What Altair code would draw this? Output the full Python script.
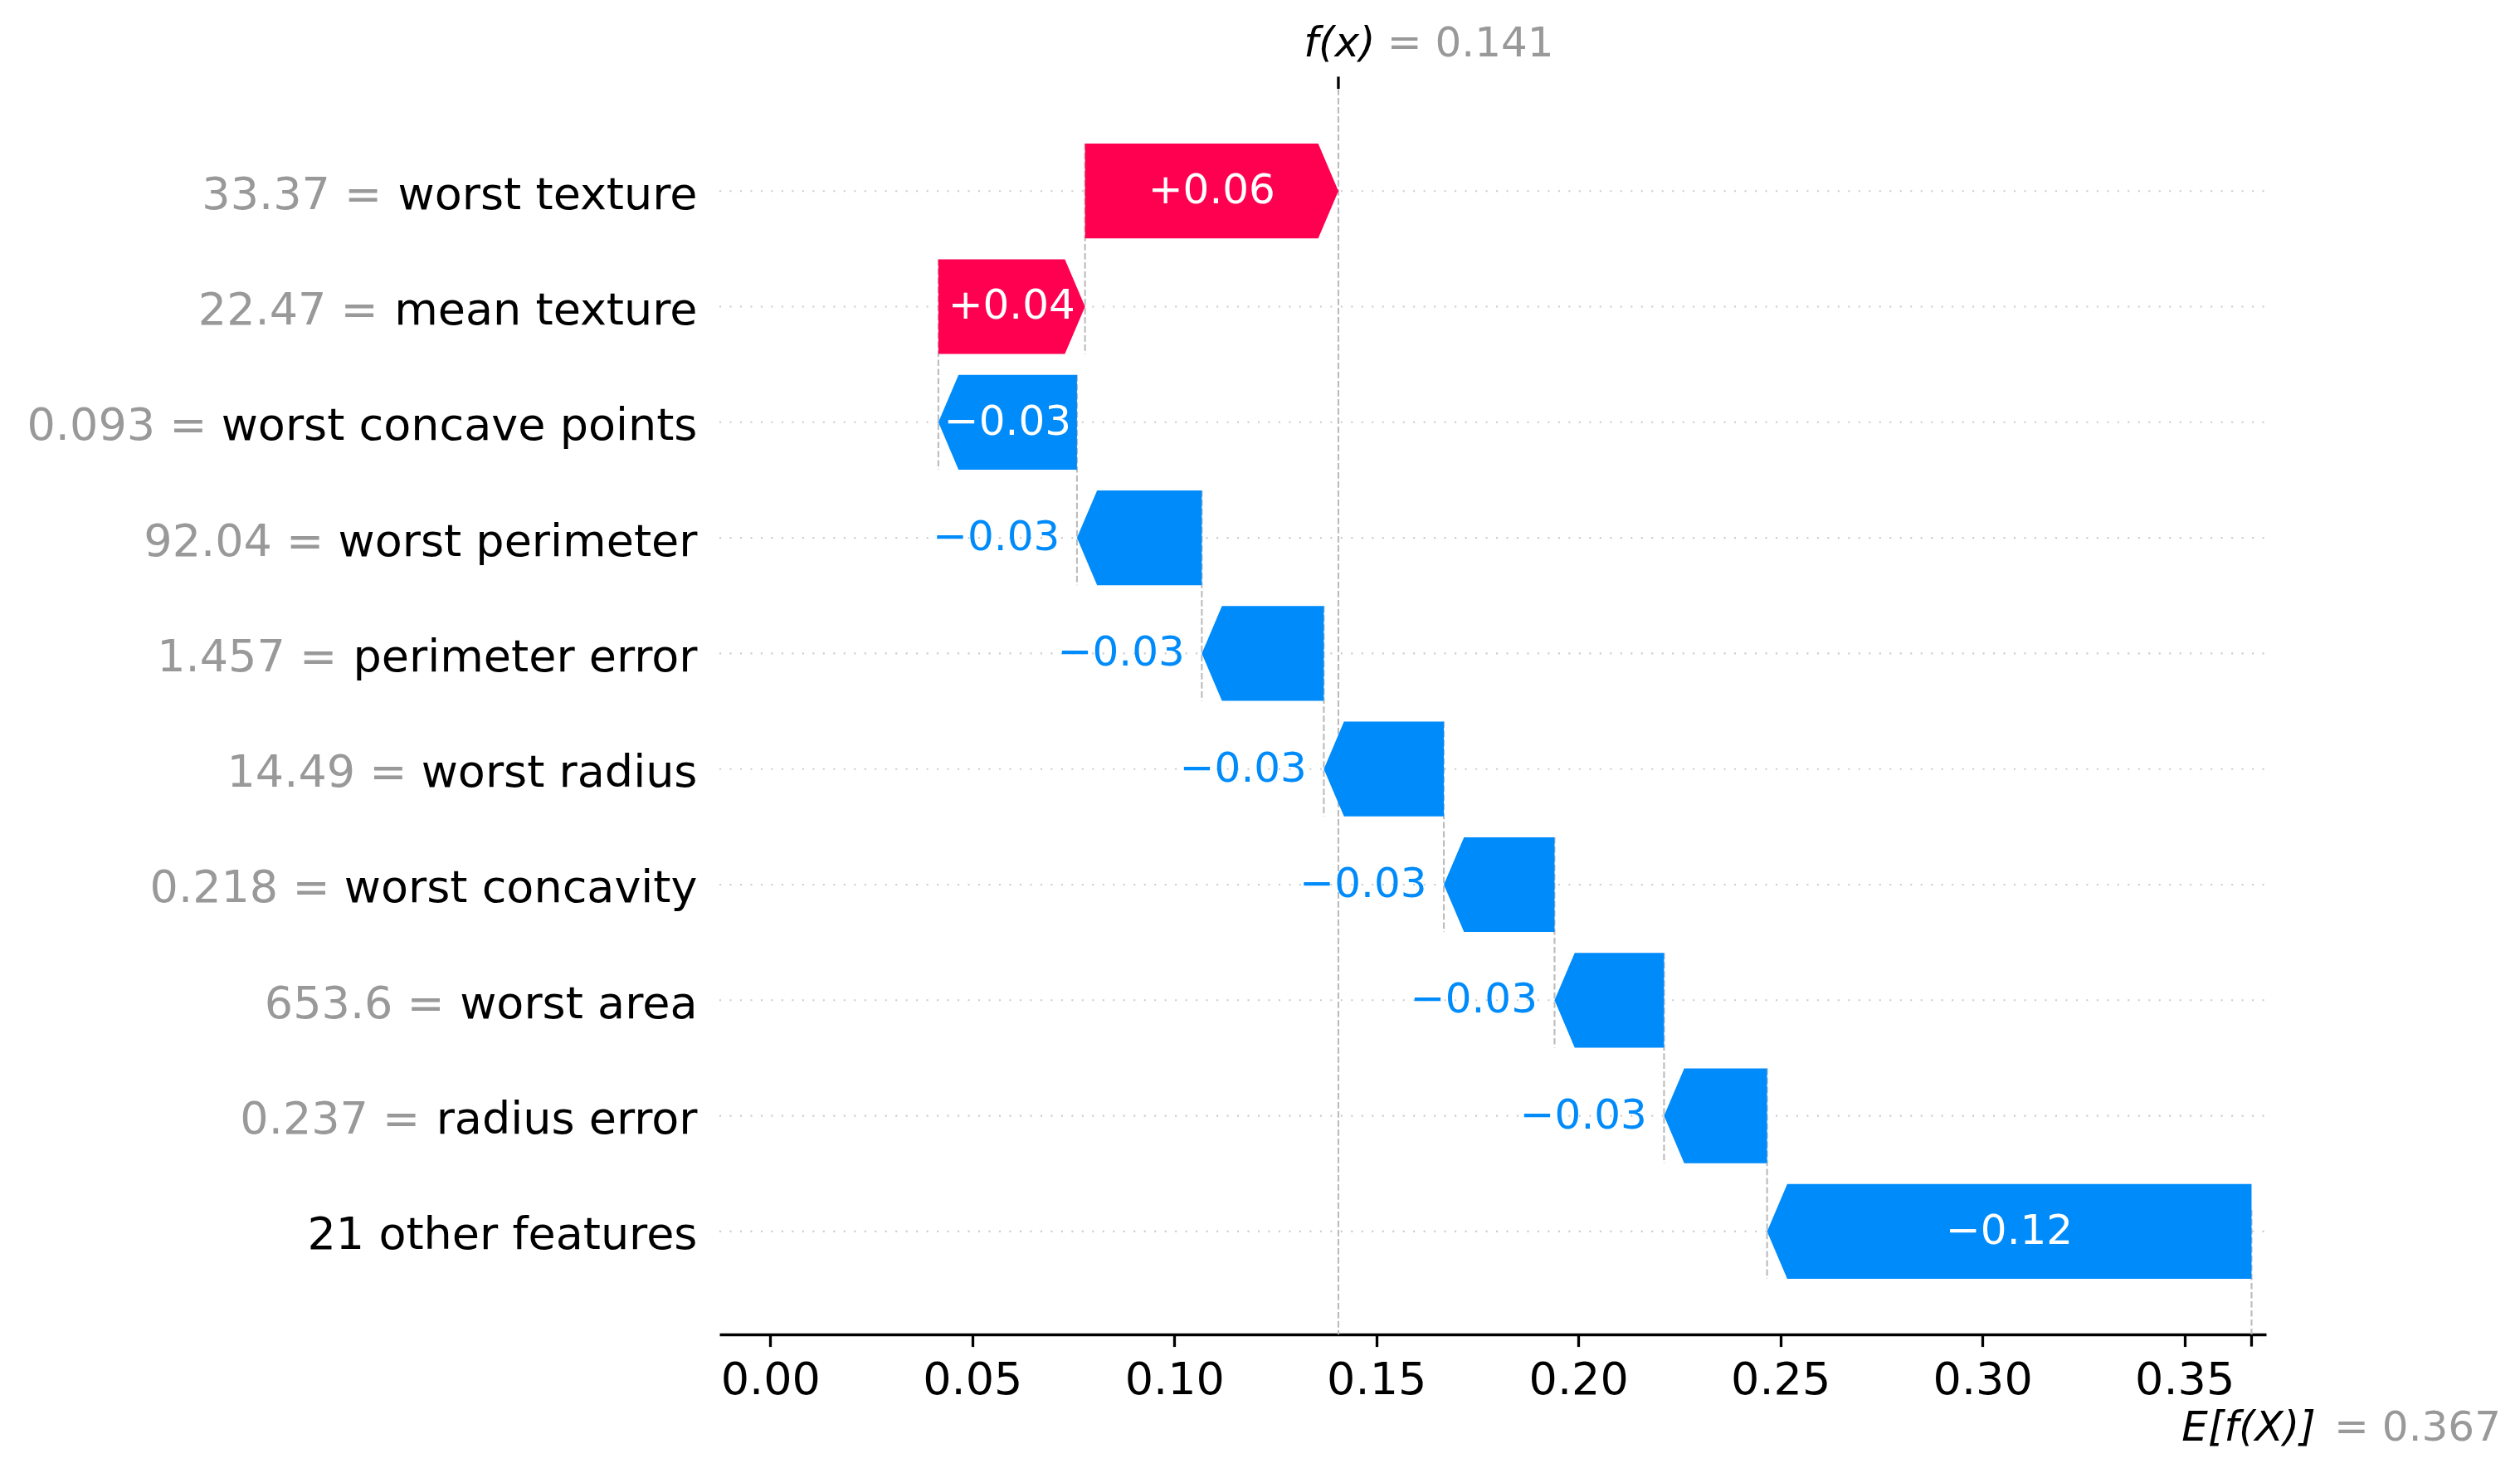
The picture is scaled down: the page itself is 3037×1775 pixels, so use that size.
import altair as alt
import pandas as pd

# ---------------- data ----------------
feature_names = ["worst texture", "mean texture", "worst concave points", "worst perimeter",
                 "perimeter error", "worst radius", "worst concavity", "worst area",
                 "radius error", "21 other features"]
feature_values = ["33.37", "22.47", "0.093", "92.04", "1.457", "14.49", "0.218", "653.6",
                  "0.237", ""]
shap_values = [0.0627, 0.0363, -0.0343, -0.0309, -0.0302, -0.0297, -0.0274, -0.0271,
               -0.0255, -0.1199]
base_value = 0.3666
x_ticks = [0.00, 0.05, 0.10, 0.15, 0.20, 0.25, 0.30, 0.35]

# ---------------- styles ----------------
RED, BLUE, GRAY = "#ff0051", "#008bfb", "#999999"
FONT = "DejaVu Sans"
W, H = 1864, 1501
X_DOMAIN = [-0.01259, 0.3702]
Y_DOMAIN = [-0.8844, 9.8909]
PX_PER_UNIT = W / (X_DOMAIN[1] - X_DOMAIN[0])
HEAD = 24.3 / PX_PER_UNIT          # arrow head length (data units)
HALF = 0.41                        # half bar height (row units)
INSIDE_MIN = 0.0325                # bars wider than this get their label inside
TICK = 14.6
LW = 3.3
LABEL_FS = 54
LABEL_X = -26.5

# DejaVu Sans advance widths (font units of 2048) used to place the grey prefix
ADV = {" ": 651, ".": 651, "=": 1716, "a": 1255, "b": 1300, "c": 1126, "d": 1300,
       "e": 1260, "f": 721, "g": 1300, "h": 1298, "i": 569, "j": 569, "k": 1186,
       "l": 569, "m": 1995, "n": 1298, "o": 1253, "p": 1300, "q": 1300, "r": 842,
       "s": 1067, "t": 803, "u": 1298, "v": 1212, "w": 1675, "x": 1212, "y": 1212,
       "z": 1075}


def text_width(s, fs):
    return sum(ADV.get(ch, 1303) for ch in s) / 2048.0 * fs


n = len(feature_names)
starts, ends = [0.0] * n, [0.0] * n
pos = base_value
for r in range(n - 1, -1, -1):
    starts[r] = pos
    pos += shap_values[r]
    ends[r] = pos
fx = pos


def fmt(v):
    return f"{v:+.2f}".replace("-", "\u2212")


rows, poly, conn = [], [], []
for r in range(n):
    v = shap_values[r]
    lo, hi = min(starts[r], ends[r]), max(starts[r], ends[r])
    prefix = (feature_values[r] + " =") if feature_values[r] else ""
    rows.append(dict(row=r, name=feature_names[r], prefix=prefix,
                     px=LABEL_X - text_width(" " + feature_names[r], LABEL_FS),
                     lo=lo, hi=hi, mid=(lo + hi) / 2, lab=fmt(v),
                     sign="pos" if v > 0 else "neg", inside=abs(v) > INSIDE_MIN))
    if v > 0:
        pts = [(lo, r - HALF, r + HALF), (hi - HEAD, r - HALF, r + HALF), (hi, r, r)]
    else:
        pts = [(lo, r, r), (lo + HEAD, r - HALF, r + HALF), (hi, r - HALF, r + HALF)]
    for k, (x, y1, y2) in enumerate(pts):
        poly.append(dict(row=r, k=k, x=x, y1=y1, y2=y2, sign=rows[-1]["sign"]))
    if r < n - 1:
        conn.append(dict(x=starts[r], y1=r - HALF, y2=r + 1 + HALF))

rows_df = pd.DataFrame(rows)
poly_df = pd.DataFrame(poly)
conn_df = pd.DataFrame(conn)
marks_df = pd.DataFrame([dict(fx=fx, base=base_value,
                              fx_t="f(x)", fx_v=f"= {fx:.3f}",
                              e_t="E[f(X)]", e_v=f"= {base_value:.3f}")])

xs = alt.Scale(domain=X_DOMAIN, nice=False, zero=False)
ys = alt.Scale(domain=Y_DOMAIN, nice=False, zero=False, reverse=True)
xaxis = alt.Axis(values=x_ticks, format=".2f", title=None, grid=False,
                 domainColor="black", domainWidth=LW, tickColor="black", tickWidth=LW,
                 tickSize=TICK, labelFontSize=54, labelFont=FONT, labelColor="black",
                 labelPadding=13.8, labelFlush=False, labelOverlap=False)


def X(field):
    return alt.X(field, scale=xs, axis=xaxis)


def Y(field):
    return alt.Y(field, scale=ys, axis=None)


grid = alt.Chart(rows_df).mark_rule(color="#cccccc", strokeWidth=2.08,
                                    strokeDash=[2.08, 10.4]).encode(
    y=Y("row:Q"), x=alt.value(0), x2=alt.value(W))

connect = alt.Chart(conn_df).mark_rule(color="#bbbbbb", strokeWidth=2.08,
                                       strokeDash=[7.7, 3.3]).encode(
    x=X("x:Q"), y=Y("y1:Q"), y2="y2:Q")

fx_line = alt.Chart(marks_df).mark_rule(color="#bbbbbb", strokeWidth=2.08,
                                        strokeDash=[7.7, 3.3]).encode(
    x=X("fx:Q"), y=alt.value(0), y2=alt.value(H))

e_line = alt.Chart(marks_df).mark_rule(color="#bbbbbb", strokeWidth=2.08,
                                       strokeDash=[7.7, 3.3]).encode(
    x=X("base:Q"), y=alt.value(H - H / 10), y2=alt.value(H))

bars = alt.Chart(poly_df).mark_area(interpolate="linear").encode(
    x=X("x:Q"),
    y=alt.Y("y1:Q", scale=ys, axis=None, stack=None),
    y2="y2:Q",
    color=alt.Color("sign:N", scale=alt.Scale(domain=["pos", "neg"], range=[RED, BLUE]),
                    legend=None),
    detail="row:N",
)

lab_gray = alt.Chart(rows_df[rows_df["prefix"] != ""]).mark_text(
    align="right", baseline="alphabetic", font=FONT, fontSize=LABEL_FS, color=GRAY,
    dy=21.5).encode(
    x=alt.X("px:Q", scale=None, axis=None), y=Y("row:Q"), text="prefix:N")
lab_black = alt.Chart(rows_df).mark_text(align="right", baseline="alphabetic", font=FONT,
                                         fontSize=LABEL_FS, color="black", dy=21.5).encode(
    x=alt.value(LABEL_X), y=Y("row:Q"), text="name:N")

inside = alt.Chart(rows_df[rows_df["inside"]]).mark_text(
    align="center", baseline="alphabetic", font=FONT, fontSize=50, color="white", dy=15).encode(
    x=X("mid:Q"), y=Y("row:Q"), text="lab:N")

layers = [grid, connect, fx_line, e_line, bars, lab_gray, lab_black, inside]

out_neg = rows_df[(~rows_df["inside"]) & (rows_df["sign"] == "neg")]
if len(out_neg):
    layers.append(alt.Chart(out_neg).mark_text(
        align="right", baseline="alphabetic", font=FONT, fontSize=50, color=BLUE,
        dx=-20.5, dy=15).encode(x=X("lo:Q"), y=Y("row:Q"), text="lab:N"))
out_pos = rows_df[(~rows_df["inside"]) & (rows_df["sign"] == "pos")]
if len(out_pos):
    layers.append(alt.Chart(out_pos).mark_text(
        align="left", baseline="alphabetic", font=FONT, fontSize=50, color=RED,
        dx=20.5, dy=15).encode(x=X("hi:Q"), y=Y("row:Q"), text="lab:N"))

fx_tick = alt.Chart(marks_df).mark_rule(color="black", strokeWidth=LW).encode(
    x=X("fx:Q"), y=alt.value(-TICK), y2=alt.value(0))
e_tick = alt.Chart(marks_df).mark_rule(color="black", strokeWidth=LW).encode(
    x=X("base:Q"), y=alt.value(H), y2=alt.value(H + TICK))

fx_t = alt.Chart(marks_df).mark_text(align="center", baseline="alphabetic", font=FONT,
                                     fontSize=50, fontStyle="italic", color="black",
                                     dx=1.5).encode(
    x=X("fx:Q"), y=alt.value(-38.7), text="fx_t:N")
fx_v = alt.Chart(marks_df).mark_text(align="left", baseline="alphabetic", font=FONT,
                                     fontSize=50, color=GRAY, dx=58.7).encode(
    x=X("fx:Q"), y=alt.value(-38.7), text="fx_v:N")
e_t = alt.Chart(marks_df).mark_text(align="center", baseline="alphabetic", font=FONT,
                                    fontSize=50, fontStyle="italic", color="black",
                                    dx=-3.4).encode(
    x=X("base:Q"), y=alt.value(H + 128), text="e_t:N")
e_v = alt.Chart(marks_df).mark_text(align="left", baseline="alphabetic", font=FONT,
                                    fontSize=50, color=GRAY, dx=99.6).encode(
    x=X("base:Q"), y=alt.value(H + 128), text="e_v:N")

layers += [fx_tick, e_tick, fx_t, fx_v, e_t, e_v]

chart = alt.layer(*layers).properties(
    width=W, height=H,
    padding={"left": 859, "top": 99, "right": 298, "bottom": 159},
    autosize=alt.AutoSizeParams(type="none"),
    background="white",
).configure_view(stroke=None)

chart.save("out.html", embed_options={"renderer": "svg", "actions": False})
